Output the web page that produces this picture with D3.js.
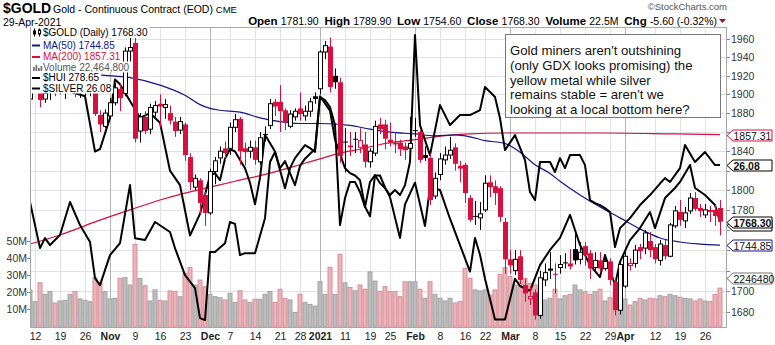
<!DOCTYPE html>
<html><head><meta charset="utf-8">
<script src="https://cdn.jsdelivr.net/npm/d3@7"></script>
<style>body{margin:0;background:#fff}svg{display:block}</style>
</head><body>
<svg id="c" width="775" height="345"></svg>
<script>
const dates = ["2020-10-09","2020-10-12","2020-10-13","2020-10-14","2020-10-15","2020-10-16","2020-10-19","2020-10-20","2020-10-21","2020-10-22","2020-10-23","2020-10-26","2020-10-27","2020-10-28","2020-10-29","2020-10-30",
"2020-11-02","2020-11-03","2020-11-04","2020-11-05","2020-11-06","2020-11-09","2020-11-10","2020-11-11","2020-11-12","2020-11-13","2020-11-16","2020-11-17","2020-11-18","2020-11-19","2020-11-20","2020-11-23","2020-11-24","2020-11-25","2020-11-27","2020-11-30",
"2020-12-01","2020-12-02","2020-12-03","2020-12-04","2020-12-07","2020-12-08","2020-12-09","2020-12-10","2020-12-11","2020-12-14","2020-12-15","2020-12-16","2020-12-17","2020-12-18","2020-12-21","2020-12-22","2020-12-23","2020-12-24","2020-12-28","2020-12-29","2020-12-30","2020-12-31",
"2021-01-04","2021-01-05","2021-01-06","2021-01-07","2021-01-08","2021-01-11","2021-01-12","2021-01-13","2021-01-14","2021-01-15","2021-01-19","2021-01-20","2021-01-21","2021-01-22","2021-01-25","2021-01-26","2021-01-27","2021-01-28","2021-01-29",
"2021-02-01","2021-02-02","2021-02-03","2021-02-04","2021-02-05","2021-02-08","2021-02-09","2021-02-10","2021-02-11","2021-02-12","2021-02-16","2021-02-17","2021-02-18","2021-02-19","2021-02-22","2021-02-23","2021-02-24","2021-02-25","2021-02-26",
"2021-03-01","2021-03-02","2021-03-03","2021-03-04","2021-03-05","2021-03-08","2021-03-09","2021-03-10","2021-03-11","2021-03-12","2021-03-15","2021-03-16","2021-03-17","2021-03-18","2021-03-19","2021-03-22","2021-03-23","2021-03-24","2021-03-25","2021-03-26","2021-03-29","2021-03-30","2021-03-31",
"2021-04-01","2021-04-05","2021-04-06","2021-04-07","2021-04-08","2021-04-09","2021-04-12","2021-04-13","2021-04-14","2021-04-15","2021-04-16","2021-04-19","2021-04-20","2021-04-21","2021-04-22","2021-04-23","2021-04-26","2021-04-27","2021-04-28","2021-04-29"];

const open = [1895,1929,1928,1895,1902,1909,1905,1910,1914,1928,1904,1905,1904,1908,1878,1866,
1877,1891,1906,1901,1947,1956,1861,1876,1863,1881,1890,1886,1880,1871,1862,1868,1834,1803,1810,1795,
1777,1819,1833,1843,1843,1865,1874,1843,1840,1844,1829,1858,1867,1892,1892,1883,1866,1876,1885,1877,1882,1898,
1906,1946,1952,1920,1913,1850,1846,1853,1844,1847,1829,1838,1868,1868,1852,1849,1849,1845,1843,
1862,1860,1836,1833,1794,1816,1831,1836,1844,1825,1826,1792,1774,1772,1780,1808,1804,1802,1768,
1731,1720,1734,1706,1693,1699,1677,1711,1722,1717,1723,1728,1727,1741,1731,1744,1737,1723,1730,1722,1729,1709,1682,
1705,1725,1727,1743,1742,1749,1743,1730,1745,1734,1764,1778,1769,1779,1792,1782,1775,1780,1780,1781.9];
const high = [1933,1937,1932,1911,1912,1913,1920,1918,1933,1930,1913,1915,1914,1910,1883,1884,
1896,1912,1912,1951,1965,1966,1880,1882,1890,1893,1900,1895,1888,1876,1876,1870,1838,1816,1812,1798,
1822,1834,1845,1850,1870,1879,1876,1849,1851,1851,1860,1866,1895,1895,1910,1885,1883,1885,1902,1888,1896,1902,
1948,1958,1962,1928,1918,1864,1860,1860,1864,1860,1843,1872,1875,1873,1870,1860,1852,1849,1876,
1875,1862,1845,1838,1818,1838,1845,1855,1848,1830,1828,1795,1789,1788,1815,1815,1810,1804,1772,
1740,1740,1740,1712,1705,1702,1720,1727,1738,1727,1735,1737,1741,1756,1748,1748,1740,1738,1738,1735,1732,1713,1728,
1738,1732,1745,1746,1760,1758,1746,1750,1750,1767,1784,1790,1783,1797,1798,1786,1786,1784,1785,1789.9];
const low = [1893,1920,1886,1891,1894,1898,1900,1895,1910,1897,1896,1893,1898,1877,1860,1864,
1874,1888,1882,1898,1935,1849,1849,1858,1858,1876,1865,1874,1868,1855,1858,1830,1800,1800,1776,1764,
1775,1806,1827,1830,1836,1860,1826,1825,1833,1826,1826,1850,1863,1877,1860,1862,1864,1872,1872,1872,1876,1890,
1900,1938,1902,1906,1828,1818,1835,1838,1838,1823,1823,1835,1858,1842,1845,1838,1835,1831,1838,
1855,1828,1830,1785,1791,1810,1826,1832,1820,1808,1787,1768,1765,1760,1778,1793,1785,1768,1717,
1717,1716,1707,1690,1687,1673,1674,1705,1712,1698,1717,1722,1721,1726,1726,1725,1712,1720,1718,1720,1706,1677,1678,
1703,1720,1723,1731,1736,1733,1727,1725,1731,1733,1762,1764,1762,1776,1779,1773,1772,1768,1764,1754.6];
const close = [1930,1931,1894,1901,1908,1906,1911,1913,1929,1904,1905,1906,1908,1879,1868,1880,
1891,1907,1896,1947,1951,1853,1876,1861,1886,1888,1887,1889,1872,1861,1871,1836,1808,1812,1787,1777,
1819,1830,1840,1838,1865,1873,1840,1839,1844,1831,1854,1858,1890,1887,1882,1870,1879,1882,1879,1882,1892,1895,
1946,1953,1908,1913,1835,1850,1844,1853,1851,1829,1840,1866,1863,1853,1849,1847,1842,1841,1848,
1862,1831,1833,1790,1812,1832,1836,1841,1827,1822,1797,1770,1774,1776,1807,1803,1797,1773,1731,
1725,1731,1711,1698,1695,1677,1713,1718,1720,1716,1726,1728,1724,1730,1738,1735,1722,1730,1722,1729,1711,1682,1726,
1734,1727,1740,1739,1757,1740,1731,1746,1734,1765,1779,1770,1777,1792,1781,1779,1780,1778,1773.9,1768.3];
// volume, millions of contracts
const volume = [21.4,14.5,25.6,18.8,20.4,13.7,14.9,15.3,18.8,20.4,16.1,15.3,14.5,28.6,25.9,20.4,
16.1,16.5,28.2,28.6,24.3,48.2,28.2,23.9,14.9,21.4,15.3,14.9,20.8,20.4,17.4,31.2,34.7,24.3,27.2,23.3,
18.8,17.4,16.8,15.5,19.4,14.1,20.9,15.5,14.1,15.9,15.9,18.8,20.4,14.1,21.8,16.5,15.5,8.2,18.8,14.1,12.9,11.9,
26.2,18.8,34.7,18.8,42.4,25.6,22.9,20.9,24.3,21.8,32.0,26.6,20.4,23.3,20.4,20.4,17.4,26.2,26.2,
26.2,21.8,16.5,26.2,18.8,16.5,14.9,16.5,13.7,14.5,34.1,28.2,21.4,20.8,21.4,18.4,21.4,30.6,34.5,
29.2,24.3,26.2,28.2,25.3,24.3,22.4,15.5,16.5,21.8,16.1,18.0,18.8,24.3,21.4,20.4,18.8,20.4,21.8,14.9,16.8,20.0,16.1,
16.1,12.5,14.5,16.5,15.5,16.5,16.1,18.0,17.4,18.8,18.0,17.1,16.5,16.1,14.9,16.1,14.9,14.5,18.8,22.4648];

// moving averages: [trading-day index, value]
const ma50Points = [[0,1932],[7,1926],[14,1921],[20,1918],[26,1910],[31,1899],[34,1889],[36,1885],[38,1883],[42,1881],[46,1875],[50,1871],[54,1869],[58,1869],[64,1867],[68,1863],[72,1860],[77,1858],[81,1856],[85,1857],[88,1855],[91,1851],[95,1848],[98,1839],[101,1826],[104,1817],[106,1809],[110,1795],[114,1783],[118,1772],[122,1761],[126,1752],[130,1748],[134,1746],[138,1744.85]];
const ma200Points = [[0,1746],[6,1755],[13,1768],[20,1780],[26,1790],[31,1797],[36,1803],[41,1809],[47,1816],[54,1826],[58,1832],[62,1838],[66,1842],[70,1847],[77,1852],[81,1855],[88,1858],[95,1859],[104,1859],[115,1859],[129,1858],[138,1857.31]];

// overlay symbols: [trading-day index, close]
const huiPoints = [[0,340],[3,338],[6,334],[8,333],[11,331],[13,308],[14,309],[16,322],[17,338],[18,336],[20,329],[22,322],[24,324],[26,320],[28,300],[30,294],[32,273],[34,282],[36,298],[37,299],[38,296],[39,305],[40,309],[41,308],[43,301],[44,295],[45,286],[46,297],[47,315],[49,308],[50,301],[51,304],[53,294],[54,302],[55,305],[57,309],[58,331],[60,325],[61,313],[63,301],[64,299],[65,298],[66,296],[67,285],[68,281],[69,298],[70,298],[71,293],[72,289],[74,272],[75,286],[77,295],[78,286],[79,277],[80,293],[82,292],[84,280],[86,269],[88,258],[89,272],[90,265],[91,255],[93,238],[95,238],[97,255],[98,252],[100,250],[102,260.7],[104,267],[106,272],[108,281.6],[109,275.3],[110,269.1],[112,260.7],[114,255.7],[115,264.9],[117,252.4],[118,262],[120,271.1],[122,276.1],[124,282.8],[125,276.1],[127,288.6],[129,292.8],[130,295.3],[132,302.4],[133,292.8],[135,289.9],[137,285.7],[138,278.65]];
const silverPoints = [[0,25.12],[2,23.92],[3,24.18],[4,24.00],[6,24.26],[8,25.12],[10,24.52],[12,24.08],[13,23.14],[14,22.96],[16,23.74],[18,24.05],[20,25.56],[21,24.18],[23,24.13],[25,24.60],[28,24.34],[29,23.92],[31,23.22],[33,22.88],[34,22.10],[35,22.05],[36,23.82],[37,23.82],[39,24.05],[40,24.60],[41,24.55],[42,23.74],[43,23.79],[45,23.79],[47,24.70],[48,26.16],[49,26.42],[51,25.48],[52,26.00],[53,26.26],[55,26.60],[56,26.52],[57,26.42],[58,27.85],[59,27.77],[60,27.59],[61,27.12],[62,24.52],[63,25.22],[64,25.64],[65,25.64],[66,25.38],[67,24.99],[68,25.64],[69,25.82],[70,25.61],[71,25.48],[72,25.30],[73,25.43],[74,25.30],[75,25.56],[76,26.16],[77,29.46],[78,27.12],[79,26.73],[80,26.34],[82,27.64],[84,27.12],[86,27.38],[88,27.38],[90,27.51],[91,28.11],[93,27.85],[94,27.30],[95,26.47],[97,26.86],[99,26.21],[100,25.38],[101,25.17],[102,26.16],[104,26.16],[105,25.90],[106,26.26],[107,26.00],[108,26.34],[110,26.34],[111,26.08],[112,25.17],[113,25.09],[114,25.04],[115,24.96],[116,24.86],[117,23.95],[118,24.44],[120,24.70],[122,25.04],[124,25.30],[126,25.60],[127,25.74],[128,25.64],[130,26.00],[131,26.60],[133,26.16],[135,26.42],[137,26.08],[138,26.08]];

const priceTicks = [1680,1700,1720,1740,1760,1780,1800,1820,1840,1860,1880,1900,1920,1940,1960];
const volTicks = [10,20,30,40,50];
// [date, label, month-start]
const xTicks = [["2020-10-12","12",0],["2020-10-19","19",0],["2020-10-26","26",0],["2020-11-02","Nov",1],["2020-11-09","9",0],["2020-11-16","16",0],["2020-11-23","23",0],["2020-12-01","Dec",1],["2020-12-07","7",0],["2020-12-14","14",0],["2020-12-21","21",0],["2020-12-28","28",0],["2021-01-04","2021",1],["2021-01-11","11",0],["2021-01-19","19",0],["2021-01-25","25",0],["2021-02-01","Feb",1],["2021-02-08","8",0],["2021-02-16","16",0],["2021-02-22","22",0],["2021-03-01","Mar",1],["2021-03-08","8",0],["2021-03-15","15",0],["2021-03-22","22",0],["2021-03-29","29",0],["2021-04-01","Apr",1],["2021-04-12","12",0],["2021-04-19","19",0],["2021-04-26","26",0]];
const noteLines = ["Gold miners aren't outshining","(only GDX looks promising) the","yellow metal while silver","remains stable = aren't we","looking at a local bottom here?"];

const RED = "#d6103f", NAVY = "#14148c", FONT = "'Liberation Sans', Arial, sans-serif";
const L = 30, R = 727, T = 27, B = 328;
const svg = d3.select("#c").style("font-family", FONT);

const x = d3.scaleBand().domain(dates).range([L - 2.5, L - 2.5 + 5 * dates.length]);
const cx = d => Math.round(x(d) + x.bandwidth() / 2);
const y = d3.scaleLog().domain([1680, 1960]).range([312.3, 39.3]);
const yv = d3.scaleLinear().domain([0, 50]).range([326.3, 241.3]);
const ySil = d3.scaleLinear().domain([22.0, 29.462]).range([322, 35]);
const yHui = d3.scaleLinear().domain([237, 356.5]).range([322, 35]);

svg.append("defs").append("clipPath").attr("id", "pc").append("rect").attr("x", L).attr("y", T).attr("width", R - L).attr("height", B - T);

// grid
const grid = svg.append("g");
grid.selectAll("line.h").data(priceTicks).join("line").attr("x1", L).attr("x2", R)
  .attr("y1", d => Math.round(y(d)) + 0.5).attr("y2", d => Math.round(y(d)) + 0.5).attr("stroke", "#e2e2e2");
grid.selectAll("line.v").data(xTicks).join("line").attr("y1", T).attr("y2", B)
  .attr("x1", d => cx(d[0]) + 0.5).attr("x2", d => cx(d[0]) + 0.5).attr("stroke", d => d[2] ? "#b4b4b4" : "#e2e2e2");

const plot = svg.append("g").attr("clip-path", "url(#pc)");
// volume
const up = close.map((c, i) => i === 0 ? true : c >= close[i - 1]);
plot.append("g").selectAll("rect").data(dates).join("rect")
  .attr("x", d => cx(d) - 2).attr("width", 4)
  .attr("y", (d, i) => yv(volume[i])).attr("height", (d, i) => yv(0) - yv(volume[i]))
  .attr("fill", (d, i) => up[i] ? "#bdbdbd" : "#e8b6ba")
  .attr("stroke", (d, i) => up[i] ? "#a3a3a3" : "#dc8c96").attr("stroke-width", 1);

// moving averages
const lineP = d3.line().x(d => cx(dates[d[0]])).y(d => y(d[1])).curve(d3.curveMonotoneX);
plot.append("path").attr("d", lineP(ma200Points)).attr("fill", "none").attr("stroke", RED).attr("stroke-width", 1.2);
plot.append("path").attr("d", lineP(ma50Points)).attr("fill", "none").attr("stroke", NAVY).attr("stroke-width", 1.2);

// overlays
const lineS = d3.line().x(d => cx(dates[d[0]])).y(d => ySil(d[1]));
const lineH = d3.line().x(d => cx(dates[d[0]])).y(d => yHui(d[1]));
plot.append("path").attr("d", lineH(huiPoints)).attr("fill", "none").attr("stroke", "#000").attr("stroke-width", 2).attr("stroke-linejoin", "round");
plot.append("path").attr("d", lineS(silverPoints)).attr("fill", "none").attr("stroke", "#000").attr("stroke-width", 2).attr("stroke-linejoin", "round");

// candles
const cg = plot.append("g").selectAll("g").data(dates).join("g");
const col = i => up[i] ? "#000" : RED;
cg.append("line").attr("x1", d => cx(d) + 0.5).attr("x2", d => cx(d) + 0.5)
  .attr("y1", (d, i) => y(high[i])).attr("y2", (d, i) => y(low[i])).attr("stroke", (d, i) => col(i));
cg.append("rect")
  .attr("x", (d, i) => close[i] > open[i] ? cx(d) - 1.5 : cx(d) - 2)
  .attr("width", (d, i) => close[i] > open[i] ? 4 : 5)
  .attr("y", (d, i) => y(Math.max(open[i], close[i])))
  .attr("height", (d, i) => Math.max(1, Math.abs(y(open[i]) - y(close[i]))))
  .attr("fill", (d, i) => close[i] > open[i] ? "#fff" : col(i))
  .attr("stroke", (d, i) => close[i] > open[i] ? col(i) : "none");

// frame
svg.append("rect").attr("x", L + 0.5).attr("y", T + 0.5).attr("width", R - L - 1).attr("height", B - T - 1)
  .attr("fill", "none").attr("stroke", "#a8a8a8");

// right-side value tags (the $HUI tag sits behind the price tag, so its text is hidden)
const last = dates.length - 1;
const tags = [
  {y: Math.round(yv(volume[last])) - 9.5, t: d3.format("d")(volume[last] * 100000), c: "#777", b: false},
  {y: Math.round(y(ma200Points[ma200Points.length - 1][1])) + 0.5, t: "1857.31", c: RED, b: false},
  {y: Math.round(y(ma50Points[ma50Points.length - 1][1])) + 0.5, t: "1744.85", c: NAVY, b: false},
  {y: Math.round(yHui(huiPoints[huiPoints.length - 1][1])) + 3.5, t: "", c: "#000", b: true},
  {y: Math.round(y(close[last])) + 0.5, t: d3.format(".2f")(close[last]), c: "#000", b: true},
  {y: Math.round(ySil(silverPoints[silverPoints.length - 1][1])) + 0.5, t: "26.08", c: "#000", b: true}];

// right price axis (labels hidden under a tag are not drawn)
const ra = svg.append("g").attr("font-size", 10.5).attr("fill", "#333");
priceTicks.forEach(p => {
  ra.append("line").attr("x1", R).attr("x2", R + 3).attr("y1", Math.round(y(p)) + 0.5).attr("y2", Math.round(y(p)) + 0.5).attr("stroke", "#888");
  if (tags.some(t => Math.abs(t.y - y(p)) < 9.5)) return;
  ra.append("text").attr("x", R + 4).attr("y", y(p) + 4).text(p);
});
// left volume axis
const la = svg.append("g").attr("font-size", 10.5).attr("fill", "#333");
volTicks.forEach(v => {
  la.append("line").attr("x1", L - 3).attr("x2", L).attr("y1", Math.round(yv(v)) + 0.5).attr("y2", Math.round(yv(v)) + 0.5).attr("stroke", "#888");
  la.append("text").attr("x", L - 3).attr("y", yv(v) + 4).attr("text-anchor", "end").text(v + "M");
});
// bottom axis
const ba = svg.append("g").attr("font-size", 10.5).attr("fill", "#222");
xTicks.forEach(t => {
  ba.append("text").attr("x", cx(t[0]) + 0.5).attr("y", 340).attr("text-anchor", "middle")
    .attr("font-weight", t[2] ? "bold" : "normal").text(t[1]);
});

tags.forEach(tg => {
  const g = svg.append("g"), yy = tg.y;
  g.append("path").attr("d", `M${R},${yy} L${R + 6},${yy - 5.5} L${R + 45},${yy - 5.5} L${R + 45},${yy + 5.5} L${R + 6},${yy + 5.5} Z`)
    .attr("fill", "#fff").attr("stroke", tg.c);
  if (tg.t) g.append("text").attr("x", R + 6.5).attr("y", yy + 4).attr("font-size", 10.5)
    .attr("font-weight", tg.b ? "bold" : "normal").attr("fill", "#111").text(tg.t);
});

// legend
const leg = svg.append("g").attr("font-size", 10);
const rows = [
  {t: "$GOLD (Daily) 1768.30", c: "#000", k: "candle"},
  {t: "MA(50) 1744.85", c: NAVY, k: "line"},
  {t: "MA(200) 1857.31", c: RED, k: "line"},
  {t: "Volume 22,464,800", c: "#555", k: "vol"},
  {t: "$HUI 278.65", c: "#000", k: "line"},
  {t: "$SILVER 26.08", c: "#000", k: "line"}];
const rowY = [32.5, 45, 56.5, 67, 77.5, 88];
rows.forEach((r, i) => {
  const g = leg.append("g");
  const bg = g.append("rect").attr("fill", "#fff");
  const tx = g.append("text").attr("x", 43).attr("y", rowY[i] + 3.6).attr("fill", r.c).text(r.t);
  const w = tx.node().getComputedTextLength();
  bg.attr("x", L + 1).attr("y", rowY[i] - 5.5).attr("width", 43 + w + 1 - L).attr("height", 11);
  if (r.k === "line") g.append("line").attr("x1", 32).attr("x2", 40).attr("y1", rowY[i] + 0.5).attr("y2", rowY[i] + 0.5).attr("stroke", r.c).attr("stroke-width", 2);
  if (r.k === "vol") [[33, 4], [35.5, 6], [38, 3], [40.5, 5]].forEach(b => g.append("rect").attr("x", b[0]).attr("y", rowY[i] + 4 - b[1]).attr("width", 1.8).attr("height", b[1]).attr("fill", "#777"));
  if (r.k === "candle") {
    g.append("line").attr("x1", 34.5).attr("x2", 34.5).attr("y1", rowY[i] - 4).attr("y2", rowY[i] + 4).attr("stroke", "#000");
    g.append("rect").attr("x", 33).attr("y", rowY[i] - 2).attr("width", 3).attr("height", 4).attr("fill", "#000");
    g.append("line").attr("x1", 39.5).attr("x2", 39.5).attr("y1", rowY[i] - 4).attr("y2", rowY[i] + 4).attr("stroke", "#000");
    g.append("rect").attr("x", 38.5).attr("y", rowY[i] - 2.5).attr("width", 2).attr("height", 4).attr("fill", "#fff").attr("stroke", "#000");
  }
});

// annotation
const note = svg.append("g");
note.append("rect").attr("x", 505.5).attr("y", 34.5).attr("width", 215).attr("height", 83).attr("fill", "#fff").attr("stroke", "#777");
noteLines.forEach((s, i) => note.append("text").attr("x", 510).attr("y", 55 + i * 14.8).attr("font-size", 13.2).attr("fill", "#111").text(s));

// header
const hd = svg.append("g").attr("fill", "#000");
hd.append("text").attr("x", 3).attr("y", 13).attr("font-size", 14).attr("font-weight", "bold").text("$GOLD");
hd.append("text").attr("x", 53).attr("y", 12.5).attr("font-size", 10.5).text("Gold - Continuous Contract (EOD) ").append("tspan").attr("font-size", 9.5).text("CME");
hd.append("text").attr("x", 3).attr("y", 25.5).attr("font-size", 10.5).text("29-Apr-2021");
const q = hd.append("text").attr("x", 717).attr("y", 25).attr("font-size", 10.5).attr("text-anchor", "end");
[["Open ", 1], ["1781.90  ", 0], ["High ", 1], ["1789.90  ", 0], ["Low ", 1], ["1754.60  ", 0], ["Close ", 1], ["1768.30  ", 0], ["Volume ", 1], ["22.5M  ", 0], ["Chg ", 1], ["-5.60 (-0.32%)", 0]]
  .forEach(p => q.append("tspan").attr("font-weight", p[1] ? "bold" : "normal").attr("font-size", p[1] ? 11.5 : 10.5).attr("xml:space", "preserve").text(p[0]));
hd.append("path").attr("d", "M719,19 L726,19 L722.5,23 Z").attr("fill", "#a01030");
hd.append("text").attr("x", 727).attr("y", 10).attr("font-size", 9.5).attr("text-anchor", "end").attr("fill", "#555").text("\u00A9StockCharts.com");
</script>
</body></html>
